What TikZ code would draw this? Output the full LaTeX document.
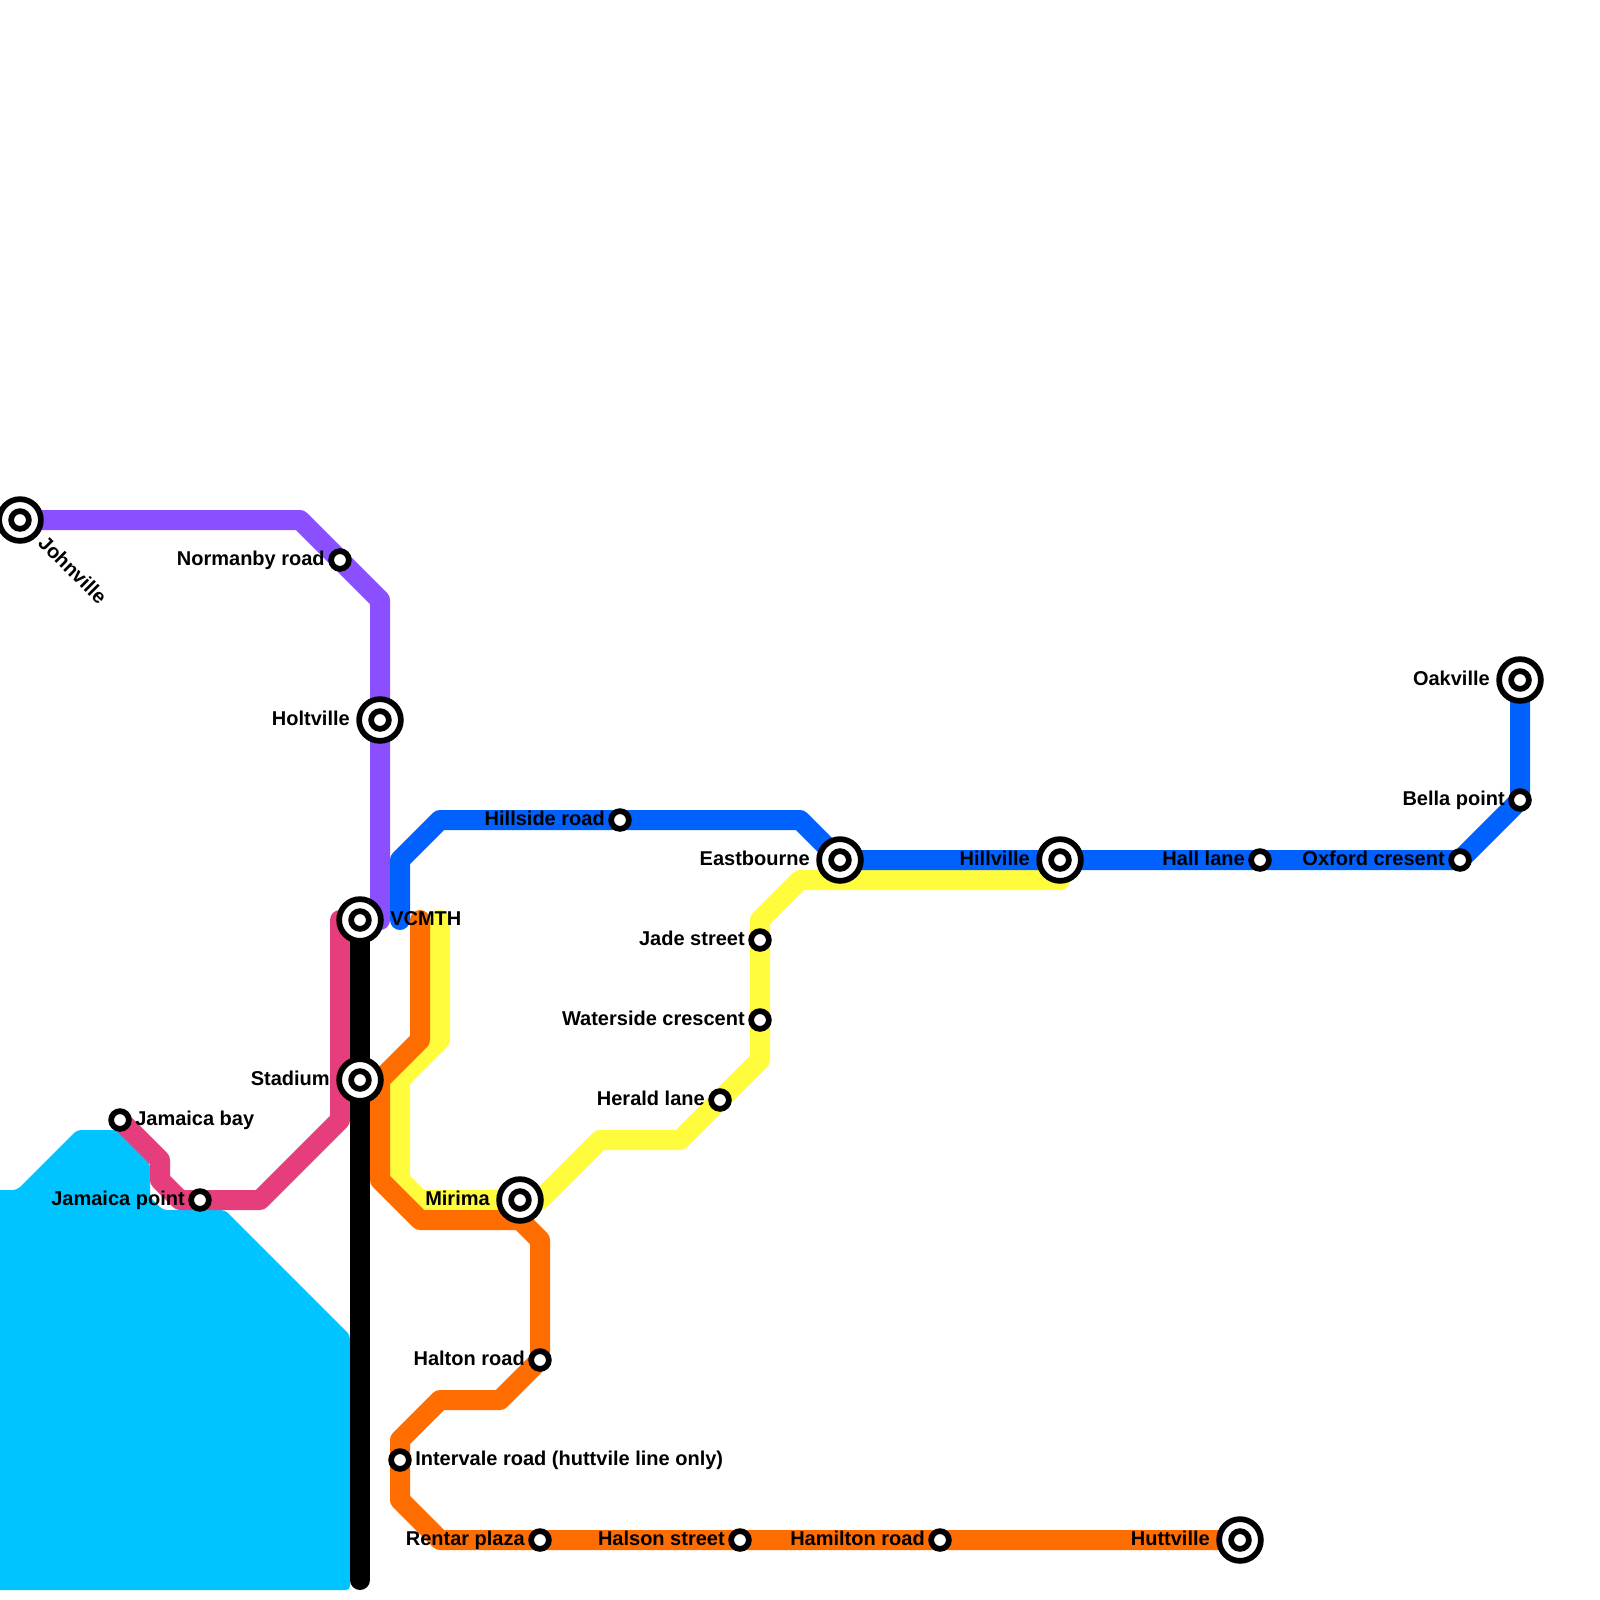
\documentclass[tikz,border=0pt]{standalone}
\usepackage{fontspec}
\setmainfont{Liberation Sans}
\definecolor{lnpurple}{HTML}{8A50FF}
\definecolor{lnblue}{HTML}{0061FF}
\definecolor{lnorange}{HTML}{FF6D00}
\definecolor{lnyellow}{HTML}{FFFB3D}
\definecolor{lnpink}{HTML}{E63D7D}
\definecolor{water}{HTML}{00C4FF}
\tikzset{
  metro/.style={line width=15pt,line cap=round,line join=round},
  stop/.style={circle,draw=black,fill=white,line width=4.3pt,minimum size=13.3pt,inner sep=0pt,outer sep=0pt},
  hubring/.style={circle,draw=black,fill=white,line width=4.3pt,minimum size=31.3pt,inner sep=0pt,outer sep=0pt},
  lbl/.style={font=\bfseries\fontsize{15pt}{17pt}\selectfont,inner sep=0pt,text=black},
  lbll/.style={lbl,anchor=base east},
  lblr/.style={lbl,anchor=base west},
}
\begin{document}
\begin{tikzpicture}[x=0.75pt,y=-0.75pt]
\useasboundingbox (0,0) rectangle (1600,1600);
\clip (0,0) rectangle (1600,1600);
\fill[white] (0,0) rectangle (1600,1600);
% stations
\foreach \n/\x/\y in {johnville/20/520,normanby/340/560,holtville/380/720,vcmth/360/920,stadium/360/1080,
  jbay/120/1120,jpoint/200/1200,hillside/620/820,eastbourne/840/860,hillville/1060/860,halllane/1260/860,
  oxford/1460/860,bella/1520/800,oakville/1520/680,mirima/520/1200,jade/760/940,waterside/760/1020,
  herald/720/1100,halton/540/1360,intervale/400/1460,rentar/540/1540,halson/740/1540,hamilton/940/1540,
  huttville/1240/1540}
  {\coordinate (\n) at (\x,\y);}
% bends
\foreach \n/\x/\y in {pa/300/520,pb/380/600,pc/380/920,
  ka/340/920,kb/340/1120,kc/260/1200,kd/180/1200,ke/160/1180,kf/160/1160,
  ba/400/920,bb/400/860,bc/440/820,bd/800/820,
  oa/420/920,ob/420/1040,oc/380/1080,od/380/1180,oe/420/1220,of/520/1220,og/540/1240,oh/500/1400,oi/440/1400,oj/400/1440,ok/400/1500,ol/440/1540,
  ya/440/920,yb/440/1040,yc/400/1080,yd/400/1180,ye/420/1200,ym/540/1200,yf/600/1140,yg/680/1140,yh/760/1060,yi/760/920,yj/800/880,yk/1060/880,
  blackend/360/1580}
  {\coordinate (\n) at (\x,\y);}
% water
\fill[water,rounded corners=3pt] (-10,1190) -- (17,1190) -- (77,1130) -- (117,1130) -- (150,1163) -- (150,1197) -- (163,1210) -- (225,1210) -- (350,1335) -- (350,1590) -- (-10,1590) -- cycle;
% lines
\draw[metro,lnpurple] (johnville) -- (pa) -- (pb) -- (pc);
\draw[metro,lnpink] (jbay) -- (kf) -- (ke) -- (kd) -- (kc) -- (kb) -- (ka);
\draw[metro,lnyellow] (ya) -- (yb) -- (yc) -- (yd) -- (ye) -- (ym) -- (yf) -- (yg) -- (yh) -- (yi) -- (yj) -- (yk);
\draw[metro,lnorange] (oa) -- (ob) -- (oc) -- (od) -- (oe) -- (of) -- (og) -- (halton) -- (oh) -- (oi) -- (oj) -- (ok) -- (ol) -- (huttville);
\draw[metro,lnblue] (ba) -- (bb) -- (bc) -- (bd) -- (eastbourne) -- (oxford) -- (bella) -- (oakville);
\draw[metro,black] (vcmth) -- (blackend);
% stops
\foreach \n in {normanby,jbay,jpoint,hillside,halllane,oxford,bella,jade,waterside,herald,halton,intervale,rentar,halson,hamilton}
  {\node[stop] (\n-st) at (\n) {};}
\foreach \n in {johnville,holtville,vcmth,stadium,eastbourne,hillville,oakville,mirima,huttville}
  {\node[hubring] (\n-ring) at (\n) {}; \node[stop] (\n-st) at (\n) {};}
% labels
\node[lbl,rotate=-45,anchor=base west] (l-johnville) at (37,544) {Johnville};
\node[lbll] (l-normanby) at (325,565) {Normanby road};
\node[lbll] (l-holtville) at (350,725) {Holtville};
\node[lblr] (l-vcmth) at (390,925) {VCMTH};
\node[lbll] (l-stadium) at (330,1085) {Stadium};
\node[lblr] (l-jbay) at (135,1125) {Jamaica bay};
\node[lbll] (l-jpoint) at (185,1205) {Jamaica point};
\node[lbll] (l-hillside) at (605,825) {Hillside road};
\node[lbll] (l-eastbourne) at (810,865) {Eastbourne};
\node[lbll] (l-hillville) at (1030,865) {Hillville};
\node[lbll] (l-halllane) at (1245,865) {Hall lane};
\node[lbll] (l-oxford) at (1445,865) {Oxford cresent};
\node[lbll] (l-bella) at (1505,805) {Bella point};
\node[lbll] (l-oakville) at (1490,685) {Oakville};
\node[lbll] (l-mirima) at (490,1205) {Mirima};
\node[lbll] (l-jade) at (745,945) {Jade street};
\node[lbll] (l-waterside) at (745,1025) {Waterside crescent};
\node[lbll] (l-herald) at (705,1105) {Herald lane};
\node[lbll] (l-halton) at (525,1365) {Halton road};
\node[lblr] (l-intervale) at (415,1465) {Intervale road (huttvile line only)};
\node[lbll] (l-rentar) at (525,1545) {Rentar plaza};
\node[lbll] (l-halson) at (725,1545) {Halson street};
\node[lbll] (l-hamilton) at (925,1545) {Hamilton road};
\node[lbll] (l-huttville) at (1210,1545) {Huttville};
\end{tikzpicture}
\end{document}
